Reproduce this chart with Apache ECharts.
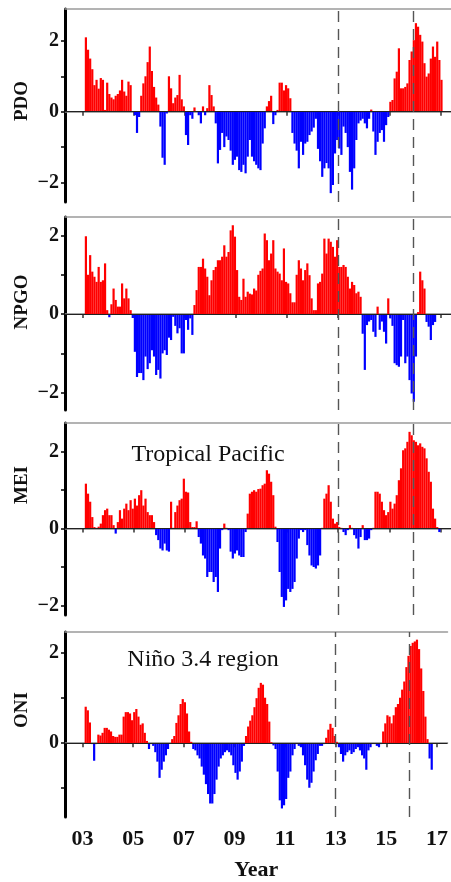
<!DOCTYPE html>
<html><head><meta charset="utf-8">
<script src="https://cdn.jsdelivr.net/npm/echarts@6/dist/echarts.min.js"></script>
<style>html,body{margin:0;padding:0;background:#fff}#c{width:451px;height:882px}</style>
</head><body><div id="c"></div><script>
// monthly series, first value = Feb 2003
const startYear = 2003, startMonth = 2;
const pdo = [
 2.1,1.75,1.5,1.2,0.75,0.9,0.65,0.95,0.9,0.05,
 0.82,0.5,0.4,0.35,0.45,0.5,0.6,0.9,0.57,0.45,
 0.85,0.75,0.02,-0.1,-0.6,-0.15,0.45,0.8,1.0,1.4,
 1.84,1.15,0.7,0.4,0.2,-0.42,-1.3,-1.5,-0.05,1.0,
 0.66,0.24,0.4,0.47,1.04,0.35,0.15,-0.66,-0.94,-0.1,
 -0.2,0.12,0.02,-0.1,-0.33,0.15,-0.1,0.1,0.75,0.47,
 0.15,-0.33,-1.46,-1.08,-0.6,-1.0,-0.7,-0.8,-1.1,-1.5,
 -1.36,-1.27,-1.65,-1.7,-1.5,-1.74,-1.27,-0.8,-1.27,-1.4,
 -1.5,-1.6,-1.65,-0.9,-0.47,0.15,0.3,0.45,-0.35,-0.1,
 0.05,0.82,0.82,0.6,0.75,0.66,0.38,-0.6,-0.9,-1.1,
 -1.6,-0.85,-1.22,-0.9,-0.85,-0.66,-0.56,-0.45,-0.2,-1.05,
 -1.4,-1.84,-1.6,-1.45,-1.6,-2.3,-2.07,-1.18,-0.8,-1.04,
 -1.22,-0.42,-0.6,-1.0,-1.7,-2.2,-1.6,-0.8,-0.33,-0.25,
 -0.2,-0.33,-0.47,-0.2,0.06,-0.56,-1.22,-0.85,-0.6,-0.52,
 -0.85,-0.38,-0.15,0.28,0.33,0.94,1.13,1.79,0.66,0.66,
 0.7,0.8,1.46,1.7,2.02,2.5,2.4,2.17,1.98,1.37,
 0.99,1.08,1.5,1.84,1.55,1.98,1.46,0.9
];
const npgo = [
 1.98,1.0,1.5,1.08,0.95,0.82,1.2,0.82,0.86,1.29,
 0.1,-0.08,0.25,0.65,0.36,0.19,0.19,0.78,0.4,0.65,
 0.4,0.1,-0.1,-0.96,-1.6,-1.5,-1.5,-1.68,-1.08,-1.4,
 -1.25,-0.92,-1.08,-1.55,-1.42,-1.64,-1.0,-0.92,-1.04,-0.6,
 -0.66,-0.07,-0.3,-0.49,-0.36,-1.0,-1.0,-0.15,-0.4,-0.11,
 -0.53,0.23,0.61,1.2,1.2,1.41,1.16,0.95,0.48,0.86,
 1.12,1.2,1.37,1.37,1.46,1.75,1.46,1.58,2.13,2.26,
 1.97,1.12,0.44,0.36,0.9,0.44,0.57,0.52,0.5,0.65,
 0.6,1.0,1.1,1.16,2.05,1.88,1.37,1.54,1.88,1.16,
 1.08,1.03,0.86,1.67,0.82,0.78,0.53,0.3,0.3,1.0,
 1.37,1.16,0.86,1.12,1.29,0.99,0.4,0.1,0.1,0.78,
 0.82,1.03,1.92,1.54,1.92,1.84,1.71,1.46,1.88,1.2,
 1.2,1.25,1.2,0.95,0.65,0.82,0.74,0.53,0.57,0.44,
 -0.5,-1.42,-0.28,-0.19,-0.15,-0.45,-0.58,0.19,-0.4,-0.19,
 -0.45,-0.75,0.4,-0.11,-0.3,-1.25,-1.3,-1.34,-1.08,-0.15,
 -1.25,-1.08,-1.68,-2.02,-2.23,-1.08,0.05,1.08,0.86,0.65,
 -0.2,-0.32,-0.66,-0.28,-0.2,null,null,null
];
const mei = [
 1.17,0.91,0.7,0.3,0.04,0.02,0.05,0.13,0.35,0.48,
 0.52,0.35,0.35,0.09,-0.13,0.17,0.48,0.26,0.52,0.65,
 0.48,0.74,0.52,0.78,0.6,0.87,1.0,0.6,0.78,0.43,
 0.35,0.35,0.17,-0.17,-0.3,-0.52,-0.57,-0.39,-0.57,-0.6,
 0.7,0.02,0.43,0.6,0.74,0.78,1.3,0.96,0.94,0.17,
 0.04,0.04,0.19,-0.22,-0.39,-0.7,-0.78,-1.26,-1.13,-1.13,
 -1.39,-1.26,-1.65,-0.52,-0.04,0.13,0.02,-0.04,-0.6,-0.78,
 -0.65,-0.57,-0.7,-0.74,-0.74,-0.09,0.39,0.91,0.96,1.0,
 0.96,1.03,1.04,1.13,1.17,1.52,1.43,1.22,0.87,0.05,
 -0.35,-1.13,-1.78,-2.04,-1.87,-1.57,-1.65,-1.57,-1.39,-0.78,
 -0.26,-0.04,-0.09,-0.04,-0.43,-0.7,-0.96,-1.0,-1.04,-0.96,
 -0.7,0.02,0.78,0.91,1.13,0.7,0.26,0.13,0.17,0.04,
 0.02,-0.09,-0.17,-0.04,0.09,0.02,-0.17,-0.26,-0.52,-0.22,
 0.09,-0.3,-0.3,-0.26,-0.04,0.02,0.96,0.96,0.91,0.7,
 0.48,0.35,0.43,0.7,0.52,0.65,0.87,1.26,1.57,2.04,
 2.09,2.26,2.52,2.43,2.3,2.26,2.17,2.22,2.13,2.09,
 1.83,1.48,1.22,0.52,0.26,0.04,-0.09,null
];
const oni = [
 0.81,0.73,0.46,-0.02,-0.39,-0.02,0.19,0.17,0.23,0.34,
 0.34,0.3,0.26,0.16,0.14,0.14,0.19,0.19,0.59,0.69,
 0.69,0.66,0.51,0.69,0.76,0.59,0.41,0.44,0.23,0.05,
 -0.13,-0.02,-0.06,-0.2,-0.41,-0.77,-0.59,-0.41,-0.27,-0.13,
 -0.01,0.09,0.16,0.45,0.62,0.87,0.98,0.91,0.66,0.26,
 0.03,-0.13,-0.16,-0.27,-0.34,-0.52,-0.7,-0.91,-1.13,-1.34,
 -1.34,-1.13,-0.81,-0.52,-0.34,-0.27,-0.2,-0.16,-0.2,-0.27,
 -0.49,-0.66,-0.81,-0.63,-0.41,-0.06,0.16,0.37,0.5,0.62,
 0.8,1.0,1.23,1.34,1.3,1.01,0.87,0.48,0.02,-0.05,
 -0.13,-0.63,-1.27,-1.45,-1.38,-1.24,-0.77,-0.63,-0.27,-0.13,
 -0.02,-0.06,-0.09,-0.27,-0.49,-0.81,-0.99,-0.88,-0.63,-0.38,
 -0.24,-0.06,-0.06,-0.02,0.12,0.3,0.43,0.34,0.16,0.03,
 -0.09,-0.24,-0.41,-0.27,-0.2,-0.16,-0.24,-0.2,-0.13,-0.09,
 -0.16,-0.27,-0.34,-0.59,-0.16,-0.09,-0.02,-0.02,-0.06,-0.09,
 -0.02,0.26,0.44,0.62,0.59,0.44,0.62,0.8,0.87,1.01,
 1.19,1.37,1.69,1.94,2.16,2.23,2.26,2.3,2.09,1.66,
 1.16,0.59,0.09,-0.34,-0.59,null,null,null
];
const tickYears = [2003,2005,2007,2009,2011,2013,2015,2017];
const tickLabels = ['03','05','07','09','11','13','15','17'];
const markYears = [2013, 2015.92];
const panelNames = ['PDO','NPGO','MEI','ONI'];
const annotations = ['', '', 'Tropical Pacific', 'Niño 3.4 region'];

const SERIF = '"Liberation Serif","DejaVu Serif",serif';
const seriesData = [pdo, npgo, mei, oni];
const layout = [
  {top: 9,   height: 193, min: -2.55, max: 2.9,  ticks: [-2,-1,0,1,2], labels: [-2,0,2], nameY: 101},
  {top: 217, height: 193, min: -2.44, max: 2.47, ticks: [-2,-1,0,1,2], labels: [-2,0,2], nameY: 302},
  {top: 423, height: 192, min: -2.25, max: 2.75, ticks: [-2,-1,0,1,2], labels: [-2,0,2], nameY: 485},
  {top: 632, height: 192, min: -1.64, max: 2.47, ticks: [-1,0,1,2],    labels: [0,2],    nameY: 710}
];
const X_MIN = 2002.307, X_MAX = 2017.414;

const toPairs = arr => arr.map((v, i) => [startYear + (startMonth - 1 + i + 0.5) / 12, v]);
const fmtY = v => v < 0 ? '\u2212' + Math.abs(v) : String(v);

const grids = [], xAxes = [], yAxes = [], series = [], graphics = [];
layout.forEach((L, p) => {
  grids.push({left: 65, right: 0, top: L.top, height: L.height});
  const last = p === 3;
  xAxes.push({
    type: 'value', gridIndex: p, min: X_MIN, max: X_MAX, position: 'bottom',
    splitLine: {show: false},
    axisLine: {show: true, lineStyle: {color: '#8a8a8a', width: 1.5}},
    axisTick: {show: true, customValues: tickYears, length: 4, lineStyle: {color: '#333', width: 1.5}},
    axisLabel: {show: last, customValues: tickYears, margin: 11,
      formatter: v => tickLabels[tickYears.indexOf(Math.round(v))] || '',
      fontFamily: SERIF, fontWeight: 'bold', fontSize: 22, color: '#111'},
    name: last ? 'Year' : '', nameLocation: 'middle', nameGap: 42,
    nameTextStyle: {fontFamily: SERIF, fontWeight: 'bold', fontSize: 22, color: '#111'}
  });
  xAxes.push({
    type: 'value', gridIndex: p, min: X_MIN, max: X_MAX, position: 'top',
    splitLine: {show: false},
    axisLine: {show: true, lineStyle: {color: '#9a9a9a', width: 1.5}},
    axisTick: {show: false}, axisLabel: {show: false}
  });
  yAxes.push({
    type: 'value', gridIndex: p, min: L.min, max: L.max,
    splitLine: {show: false},
    axisLine: {show: true, onZero: false, lineStyle: {color: '#000', width: 3}},
    axisTick: {show: true, customValues: L.ticks, length: 4, lineStyle: {color: '#000', width: 1.5}},
    axisLabel: {customValues: L.labels, formatter: fmtY, margin: 6,
      fontFamily: SERIF, fontWeight: 'bold', fontSize: 20, color: '#111'}
  });
  series.push({
    type: 'bar', xAxisIndex: p * 2, yAxisIndex: p,
    data: toPairs(seriesData[p]),
    barWidth: 2.2,
    itemStyle: {color: params => params.value[1] >= 0 ? '#ff0000' : '#0000ff'},
    emphasis: {disabled: true},
    markLine: {
      silent: true, symbol: 'none', label: {show: false}, animation: false,
      data: [
        {yAxis: 0, lineStyle: {color: '#222', width: 1, type: 'solid'}},
        ...markYears.map(y => ({xAxis: y, lineStyle: {color: '#555', width: 1.4, type: [11, 7]}}))
      ]
    }
  });
  graphics.push({
    type: 'text', x: 22, y: L.nameY, rotation: Math.PI / 2,
    style: {text: panelNames[p], font: 'bold 19px ' + SERIF, fill: '#111', align: 'center', verticalAlign: 'middle'}
  });
});
graphics.push({type: 'text', x: 208, y: 455,
  style: {text: annotations[2], font: '24px ' + SERIF, fill: '#111', align: 'center', verticalAlign: 'middle'}});
graphics.push({type: 'text', x: 203, y: 660,
  style: {text: annotations[3], font: '24px ' + SERIF, fill: '#111', align: 'center', verticalAlign: 'middle'}});

const chart = echarts.init(document.getElementById('c'), null, {renderer: 'canvas'});
chart.setOption({
  animation: false,
  backgroundColor: '#fff',
  grid: grids, xAxis: xAxes, yAxis: yAxes, series: series, graphic: graphics
});
</script></body></html>
